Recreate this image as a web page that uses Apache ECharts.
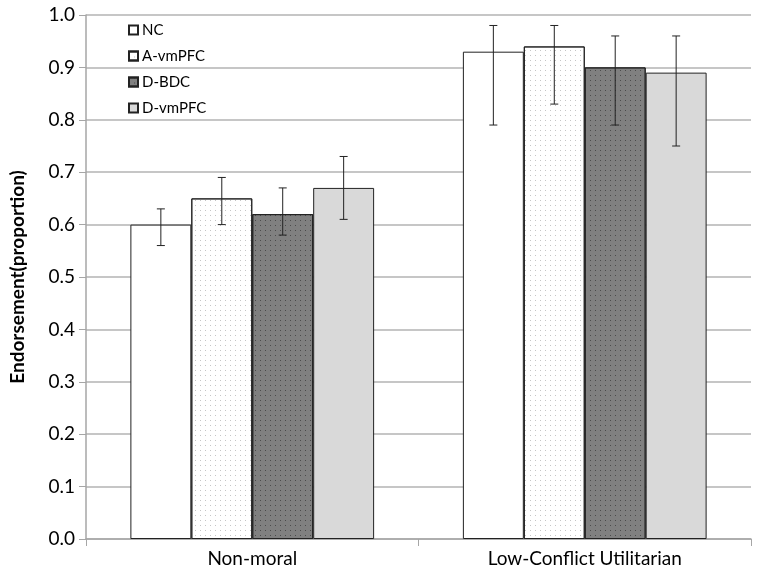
<!DOCTYPE html>
<html><head><meta charset="utf-8">
<script src="https://cdn.jsdelivr.net/npm/echarts@6/dist/echarts.min.js"></script>
<style>html,body{margin:0;padding:0;background:#fff}#c{width:760px;height:578px}</style>
</head><body><div id="c"></div>
<script>
const categories = ['Non-moral', 'Low-Conflict Utilitarian'];
const seriesNames = ['NC', 'A-vmPFC', 'D-BDC', 'D-vmPFC'];
const meanNC = [0.60, 0.93];
const meanA = [0.65, 0.94];
const meanDB = [0.62, 0.90];
const meanDV = [0.67, 0.89];
const lowNC = [0.56, 0.79], highNC = [0.63, 0.98];
const lowA = [0.60, 0.83], highA = [0.69, 0.98];
const lowDB = [0.58, 0.79], highDB = [0.67, 0.96];
const lowDV = [0.61, 0.75], highDV = [0.73, 0.96];
const yTicks = ['0.0','0.1','0.2','0.3','0.4','0.5','0.6','0.7','0.8','0.9','1.0'];

const means = [meanNC, meanA, meanDB, meanDV];
const lows = [lowNC, lowA, lowDB, lowDV];
const highs = [highNC, highA, highDB, highDV];
const fills = ['#ffffff', '#ffffff', '#808080', '#d9d9d9'];
const decals = [
  null,
  {symbol:'rect', symbolSize:1, color:'rgba(150,150,150,0.55)', dashArrayX:[[1,4]], dashArrayY:[1,4], rotation:0},
  {symbol:'rect', symbolSize:1, color:'rgba(40,40,40,0.6)', dashArrayX:[[1,4]], dashArrayY:[1,4], rotation:0},
  null
];
const gapPct = 0.267;
const font = 'Lato, "Open Sans", sans-serif';

const series = [];
seriesNames.forEach((n, i) => {
  const st = {color: fills[i], borderColor: '#222', borderWidth: 1};
  if (decals[i]) st.decal = decals[i];
  series.push({
    name: n, type: 'bar', data: means[i], barGap: '0%', barCategoryGap: (gapPct*100)+'%',
    itemStyle: st, emphasis: {disabled: true}, z: 2
  });
});
seriesNames.forEach((n, i) => {
  series.push({
    type: 'custom', z: 5, silent: true,
    data: categories.map((c, k) => [k, lows[i][k], highs[i][k]]),
    renderItem: function (params, api) {
      const band = api.size([1, 0])[0];
      const bw = band * (1 - gapPct) / 4;
      const cx = api.coord([api.value(0), 0])[0] + (i - 1.5) * bw;
      const lo = api.coord([api.value(0), api.value(1)])[1];
      const hi = api.coord([api.value(0), api.value(2)])[1];
      const cap = 4;
      const style = {stroke: '#222', lineWidth: 1};
      return {type: 'group', children: [
        {type: 'line', shape: {x1: cx, y1: lo, x2: cx, y2: hi}, style: style},
        {type: 'line', shape: {x1: cx - cap, y1: lo, x2: cx + cap, y2: lo}, style: style},
        {type: 'line', shape: {x1: cx - cap, y1: hi, x2: cx + cap, y2: hi}, style: style}
      ]};
    }
  });
});

const chart = echarts.init(document.getElementById('c'), null, {renderer: 'canvas'});
chart.setOption({
  animation: false,
  backgroundColor: '#fff',
  textStyle: {fontFamily: font},
  grid: {left: 81, right: 9, top: 15, bottom: 39, containLabel: false},
  legend: {
    orient: 'vertical', left: 128, top: 22, itemWidth: 9, itemHeight: 9, itemGap: 10,
    icon: 'rect', data: seriesNames, padding: 0,
    textStyle: {fontFamily: font, fontSize: 15, lineHeight: 16, color: '#000', padding: [0,0,0,-1]}
  },
  xAxis: {
    type: 'category', data: categories,
    axisLine: {lineStyle: {color: '#a6a6a6', width: 1.5}},
    axisTick: {show: true, length: 7, lineStyle: {color: '#a6a6a6'}},
    axisLabel: {fontFamily: font, fontSize: 19, color: '#000', margin: 10}
  },
  yAxis: {
    type: 'value', min: 0, max: 1, interval: 0.1,
    name: 'Endorsement(proportion)', nameLocation: 'middle', nameGap: 59,
    nameTextStyle: {fontFamily: font, fontSize: 19, fontWeight: 'bold', color: '#000'},
    axisLine: {show: true, lineStyle: {color: '#a6a6a6', width: 1.5}},
    axisTick: {show: true, length: 7, lineStyle: {color: '#a6a6a6'}},
    axisLabel: {fontFamily: font, fontSize: 19, color: '#000', margin: 11,
      formatter: v => yTicks[Math.round(v * 10)]},
    splitLine: {lineStyle: {color: '#b3b3b3', width: 1.5}}
  },
  series: series
});
</script></body></html>
